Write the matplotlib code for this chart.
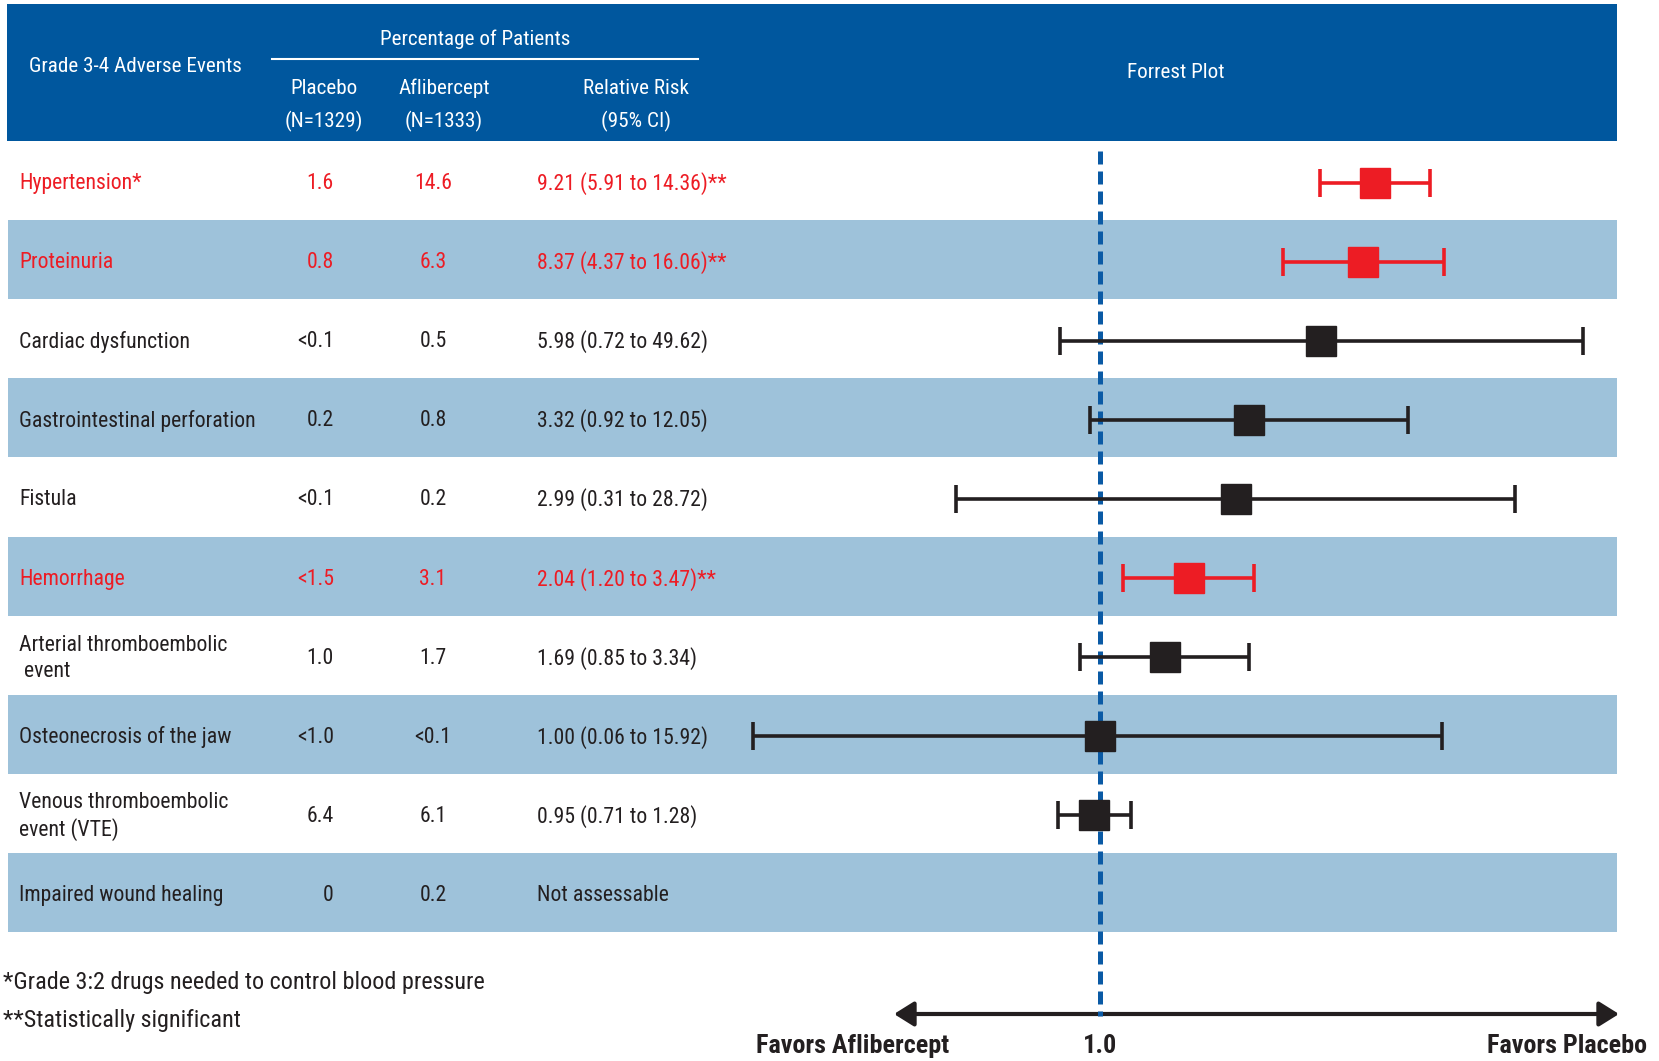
import numpy as np
import matplotlib
matplotlib.use("Agg")
import matplotlib.pyplot as plt

plt.rcParams['font.family'] = ['DejaVu Sans Condensed', 'Roboto Condensed',
                               'Liberation Sans Narrow', 'DejaVu Sans']
plt.rcParams['font.stretch'] = 'condensed'

# table data
events = ["Hypertension*", "Proteinuria", "Cardiac dysfunction",
          "Gastrointestinal perforation", "Fistula", "Hemorrhage",
          "Arterial thromboembolic\n event", "Osteonecrosis of the jaw",
          "Venous thromboembolic\nevent (VTE)", "Impaired wound healing"]
placebo = ["1.6", "0.8", "<0.1", "0.2", "<0.1", "<1.5", "1.0", "<1.0", "6.4", "0"]
aflibercept = ["14.6", "6.3", "0.5", "0.8", "0.2", "3.1", "1.7", "<0.1", "6.1", "0.2"]
rr = [9.21, 8.37, 5.98, 3.32, 2.99, 2.04, 1.69, 1.00, 0.95, None]
rr_lo = [5.91, 4.37, 0.72, 0.92, 0.31, 1.20, 0.85, 0.06, 0.71, None]
rr_hi = [14.36, 16.06, 49.62, 12.05, 28.72, 3.47, 3.34, 15.92, 1.28, None]
significant = [True, True, False, False, False, True, False, False, False, False]

HEADER_BLUE = "#00579E"
BAND_BLUE = "#9EC2DA"
RED = "#ED1C24"
DARK = "#231F20"

W, H = 1659, 1061
fig = plt.figure(figsize=(W / 100, H / 100), dpi=100)
renderer = fig.canvas.get_renderer()


def fit_size(sample, width_px, **kw):
    # font size at which `sample` spans width_px pixels
    t = fig.text(0, 0, sample, fontsize=10, **kw)
    w = t.get_window_extent(renderer).width
    t.remove()
    return 10 * width_px / w


fs_row = fit_size("Gastrointestinal perforation", 235)
fs_hdr = fit_size("Grade 3-4 Adverse Events", 212)
fs_note = fit_size("*Grade 3:2 drugs needed to control blood pressure", 480)
fs_bold = fit_size("Favors Aflibercept", 193, fontweight="bold")

# base axes in pixel units for the table part
ax = fig.add_axes([0, 0, 1, 1])
ax.set_xlim(0, W)
ax.set_ylim(H, 0)
ax.axis("off")

row_top, row_h = 141, 79.1
n = len(events)
ys = [row_top + row_h * (i + 0.5) for i in range(n)]

# header block
ax.add_patch(plt.Rectangle((7, 4), 1610, row_top - 4, color=HEADER_BLUE, lw=0))
hdr = dict(color="white", fontsize=fs_hdr, va="center", ha="center")
ax.text(135, 67, "Grade 3-4 Adverse Events", **hdr)
ax.text(475, 39, "Percentage of Patients", **hdr)
ax.plot([272, 698], [59, 59], color="white", lw=1.5)
ax.text(324, 88, "Placebo", **hdr)
ax.text(324, 121, "(N=1329)", **hdr)
ax.text(444, 88, "Aflibercept", **hdr)
ax.text(444, 121, "(N=1333)", **hdr)
ax.text(636, 88, "Relative Risk", **hdr)
ax.text(636, 121, "(95% CI)", **hdr)
ax.text(1176, 73, "Forrest Plot", **hdr)

# alternating row bands and table text
for i in range(n):
    if i % 2 == 1:
        ax.add_patch(plt.Rectangle((8, ys[i] - row_h / 2), 1609, row_h,
                                   color=BAND_BLUE, lw=0))
    c = RED if significant[i] else DARK
    ty = ys[i] + 3
    ax.text(19, ty, events[i], color=c, fontsize=fs_row, va="center",
            ha="left", linespacing=1.3)
    ax.text(334, ty, placebo[i], color=c, fontsize=fs_row, va="center", ha="right")
    ax.text(433, ty, aflibercept[i], color=c, fontsize=fs_row, va="center", ha="center")
    if rr[i] is None:
        label = "Not assessable"
    else:
        label = f"{rr[i]:.2f} ({rr_lo[i]:.2f} to {rr_hi[i]:.2f})"
        if significant[i]:
            label += "**"
    ax.text(537, ty, label, color=c, fontsize=fs_row, va="center", ha="left")

# footnotes
ax.text(3, 983, "*Grade 3:2 drugs needed to control blood pressure",
        color=DARK, fontsize=fs_note, va="center", ha="left")
ax.text(3, 1020, "**Statistically significant",
        color=DARK, fontsize=fs_note, va="center", ha="left")

# favours arrow
ax.annotate("", xy=(1619, 1014), xytext=(894, 1014),
            arrowprops=dict(arrowstyle="<|-|>,head_length=1.2,head_width=0.75",
                            color=DARK, lw=3, shrinkA=0, shrinkB=0))
ax.text(853, 1046, "Favors Aflibercept", color=DARK, fontsize=fs_bold,
        fontweight="bold", va="center", ha="center")
ax.text(1487, 1046, "Favors Placebo", color=DARK, fontsize=fs_bold,
        fontweight="bold", va="center", ha="left")

# forest plot on a log scale sharing the pixel rows
x_one, px_decade = 1100.4, 284.6
fx = fig.add_axes([0, 0, 1, 1])
fx.set_xscale("log")
fx.set_xlim(10 ** (-x_one / px_decade), 10 ** ((W - x_one) / px_decade))
fx.set_ylim(H, 0)
fx.patch.set_alpha(0)
fx.axis("off")

fx.plot([1.0, 1.0], [151, 1016], color="#0A5AA5", lw=3.6,
        dashes=(2.6, 1.4), zorder=2)
fx.text(1.0, 1046, "1.0", color=DARK, fontsize=fs_bold, fontweight="bold",
        va="center", ha="center")

for i in range(n):
    if rr[i] is None:
        continue
    c = RED if significant[i] else DARK
    fx.errorbar(rr[i], ys[i] + 2, xerr=[[rr[i] - rr_lo[i]], [rr_hi[i] - rr[i]]],
                fmt="s", color=c, ms=21, elinewidth=2.6, capsize=10,
                capthick=2.6, zorder=3)

fig.savefig("out.png", dpi=100)
